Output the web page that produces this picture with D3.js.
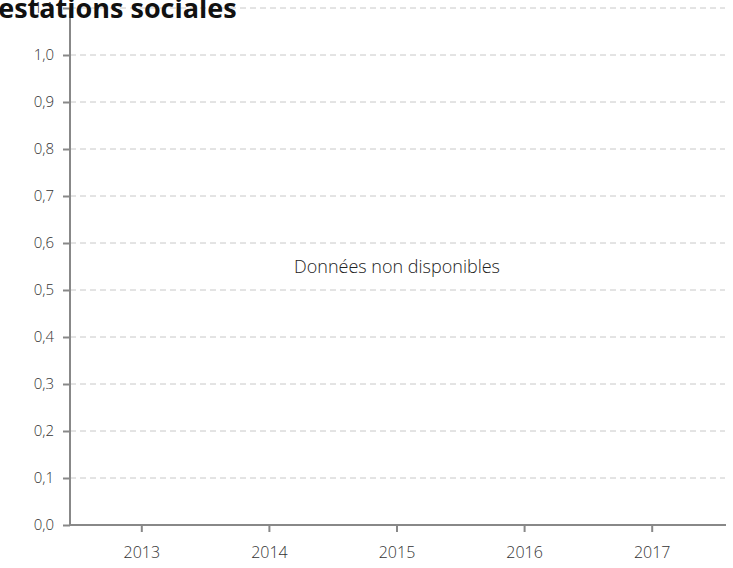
<!DOCTYPE html>
<html>
<head>
<meta charset="utf-8">
<script src="https://cdn.jsdelivr.net/npm/d3@7"></script>
<style>
  body { margin: 0; background: #fff; }
  svg { display: block; }
</style>
</head>
<body>
<div id="chart"></div>
<script>
var years = ["2013", "2014", "2015", "2016", "2017"];
var yTicks = [0, 0.1, 0.2, 0.3, 0.4, 0.5, 0.6, 0.7, 0.8, 0.9, 1.0, 1.1];
var values = [null, null, null, null, null];
var title = "Prestations sociales";
var noDataText = "Données non disponibles";

var w = 733, h = 568;
var mLeft = 70, mRight = 725, mTop = 8, mBottom = 525;

var svg = d3.select("#chart").append("svg").attr("width", w).attr("height", h);

var x = d3.scaleBand().domain(years).range([78, 716]);
var y = d3.scaleLinear().domain([0, 1.1]).range([mBottom, mTop]);
var fmt = function (d) { return d3.format(".1f")(d).replace(".", ","); };

// grid
svg.append("g")
  .selectAll("line")
  .data(yTicks)
  .enter()
  .append("line")
  .attr("x1", mLeft)
  .attr("x2", mRight)
  .attr("y1", function (d) { return y(d); })
  .attr("y2", function (d) { return y(d); })
  .style("stroke", "#c8c8c8")
  .style("stroke-dasharray", "6,4");

// y axis
var yAxis = svg.append("g")
  .attr("transform", "translate(" + mLeft + ",0)")
  .call(d3.axisLeft(y).tickValues(yTicks).tickFormat(fmt).tickSize(7).tickPadding(9));
yAxis.select(".domain").remove();
yAxis.selectAll(".tick line").style("stroke", "#888").style("stroke-width", 2);
yAxis.selectAll("text")
  .style("font-family", "'Open Sans', sans-serif")
  .style("font-weight", 300)
  .style("font-size", "15px")
  .style("fill", "#333");

// x axis
var xAxis = svg.append("g")
  .attr("transform", "translate(0," + mBottom + ")")
  .call(d3.axisBottom(x).tickSize(7).tickPadding(15));
xAxis.select(".domain").remove();
xAxis.selectAll(".tick line").style("stroke", "#888").style("stroke-width", 2);
xAxis.selectAll("text")
  .style("font-family", "'Open Sans', sans-serif")
  .style("font-weight", 300)
  .style("font-size", "16px")
  .style("fill", "#333");

// axis lines
svg.append("line")
  .attr("x1", mLeft).attr("x2", mLeft)
  .attr("y1", mTop).attr("y2", mBottom + 1)
  .style("stroke", "#888").style("stroke-width", 2);
svg.append("line")
  .attr("x1", mLeft).attr("x2", mRight + 1)
  .attr("y1", mBottom).attr("y2", mBottom)
  .style("stroke", "#888").style("stroke-width", 2);

// no data message
svg.append("text")
  .attr("x", x("2015") + x.bandwidth() / 2)
  .attr("y", y(0.55) + 6)
  .attr("text-anchor", "middle")
  .text(noDataText)
  .style("font-family", "'Open Sans', sans-serif")
  .style("font-weight", 300)
  .style("font-size", "18px")
  .style("fill", "#222");

// title (cut at the top, as in the reference)
svg.append("text")
  .attr("x", -31)
  .attr("y", 18)
  .text(title)
  .style("font-family", "'Open Sans', sans-serif")
  .style("font-weight", "bold")
  .style("font-size", "27px")
  .style("fill", "#111");
</script>
</body>
</html>
